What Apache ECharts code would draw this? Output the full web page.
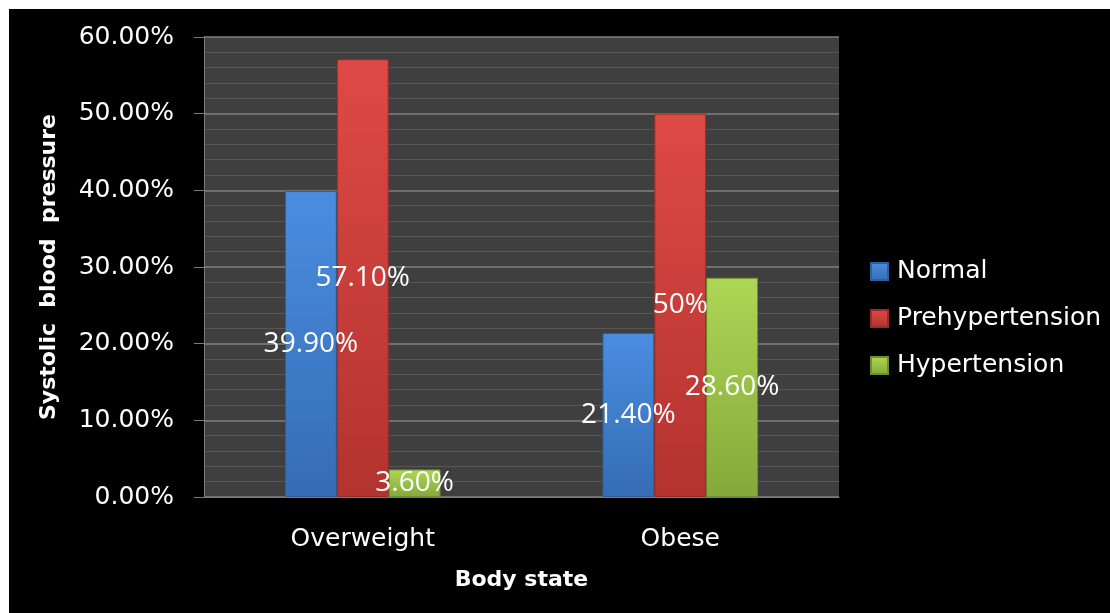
<!DOCTYPE html>
<html>
<head>
<meta charset="utf-8">
<script src="https://cdn.jsdelivr.net/npm/echarts@6/dist/echarts.min.js"></script>
<style>
  html, body { margin: 0; padding: 0; background: #fff; }
  #chart { width: 1110px; height: 613px; }
</style>
</head>
<body>
<div id="chart"></div>
<script>
const categories = ['Overweight', 'Obese'];
const seriesNames = ['Normal', 'Prehypertension', 'Hypertension'];
const normalValues = [39.9, 21.4];
const prehypertensionValues = [57.1, 50];
const hypertensionValues = [3.6, 28.6];
const yTicks = { min: 0, max: 60, interval: 10 };

const colors = [
  { top: '#4a8de0', bottom: '#356db4', border: '#2d5e9e' },
  { top: '#de4a45', bottom: '#b3332f', border: '#9a2b27' },
  { top: '#aed655', bottom: '#85a93a', border: '#6f8f2e' }
];

function grad(c) {
  return new echarts.graphic.LinearGradient(0, 0, 0, 1, [
    { offset: 0, color: c.top },
    { offset: 1, color: c.bottom }
  ]);
}

function fmt(v) {
  return (Number.isInteger(v) ? String(v) : v.toFixed(2)) + '%';
}

const allValues = [normalValues, prehypertensionValues, hypertensionValues];

const chart = echarts.init(document.getElementById('chart'), null, { renderer: 'canvas' });
chart.setOption({
  backgroundColor: '#000',
  animation: false,
  graphic: [
    { type: 'rect', left: 0, top: 0, shape: { width: 1110, height: 9 }, style: { fill: '#fff' }, z: 100 },
    { type: 'rect', left: 0, top: 0, shape: { width: 9, height: 613 }, style: { fill: '#fff' }, z: 100 }
  ],
  grid: {
    left: 204, top: 37, right: 271, bottom: 116,
    show: true, backgroundColor: '#3f3f3f', borderWidth: 0
  },
  legend: {
    orient: 'vertical',
    left: 865, top: 254,
    itemWidth: 17, itemHeight: 17, itemGap: 22,
    icon: 'rect',
    textStyle: { color: '#fff', fontSize: 25, fontFamily: 'DejaVu Sans', padding: [0, 0, 0, 4] },
    data: seriesNames
  },
  xAxis: {
    type: 'category',
    data: categories,
    name: 'Body state',
    nameLocation: 'middle',
    nameGap: 72,
    nameTextStyle: { color: '#fff', fontSize: 22, fontWeight: 'bold', fontFamily: 'DejaVu Sans' },
    axisLine: { show: true, lineStyle: { color: '#7a7a7a', width: 1 } },
    axisTick: { show: false },
    axisLabel: { color: '#fff', fontSize: 25, fontFamily: 'DejaVu Sans', margin: 30 },
    splitLine: { show: false }
  },
  yAxis: {
    type: 'value',
    min: yTicks.min, max: yTicks.max, interval: yTicks.interval,
    name: 'Systolic  blood  pressure',
    nameLocation: 'middle',
    nameRotate: 90,
    nameGap: 144,
    nameTextStyle: { color: '#fff', fontSize: 22, fontWeight: 'bold', fontFamily: 'DejaVu Sans' },
    axisLine: { show: true, lineStyle: { color: '#7a7a7a', width: 1 } },
    axisTick: { show: true, length: 10, inside: false, lineStyle: { color: '#7a7a7a' } },
    axisLabel: {
      color: '#fff', fontSize: 25, fontFamily: 'DejaVu Sans', margin: 30,
      formatter: v => v.toFixed(2) + '%'
    },
    splitLine: { show: true, lineStyle: { color: '#808080', width: 1.5 } },
    minorTick: { show: false, splitNumber: 5 },
    minorSplitLine: { show: true, lineStyle: { color: '#575757', width: 1.2 } }
  },
  series: seriesNames.map((name, i) => ({
    name: name,
    type: 'bar',
    data: allValues[i],
    barGap: '0%',
    barCategoryGap: '51%',
    itemStyle: { color: grad(colors[i]), borderColor: colors[i].border, borderWidth: 1 },
    label: {
      show: true,
      position: 'inside',
      color: '#fff',
      fontSize: 28,
      fontFamily: 'Open Sans',
      formatter: p => fmt(p.value)
    }
  }))
});
</script>
</body>
</html>
